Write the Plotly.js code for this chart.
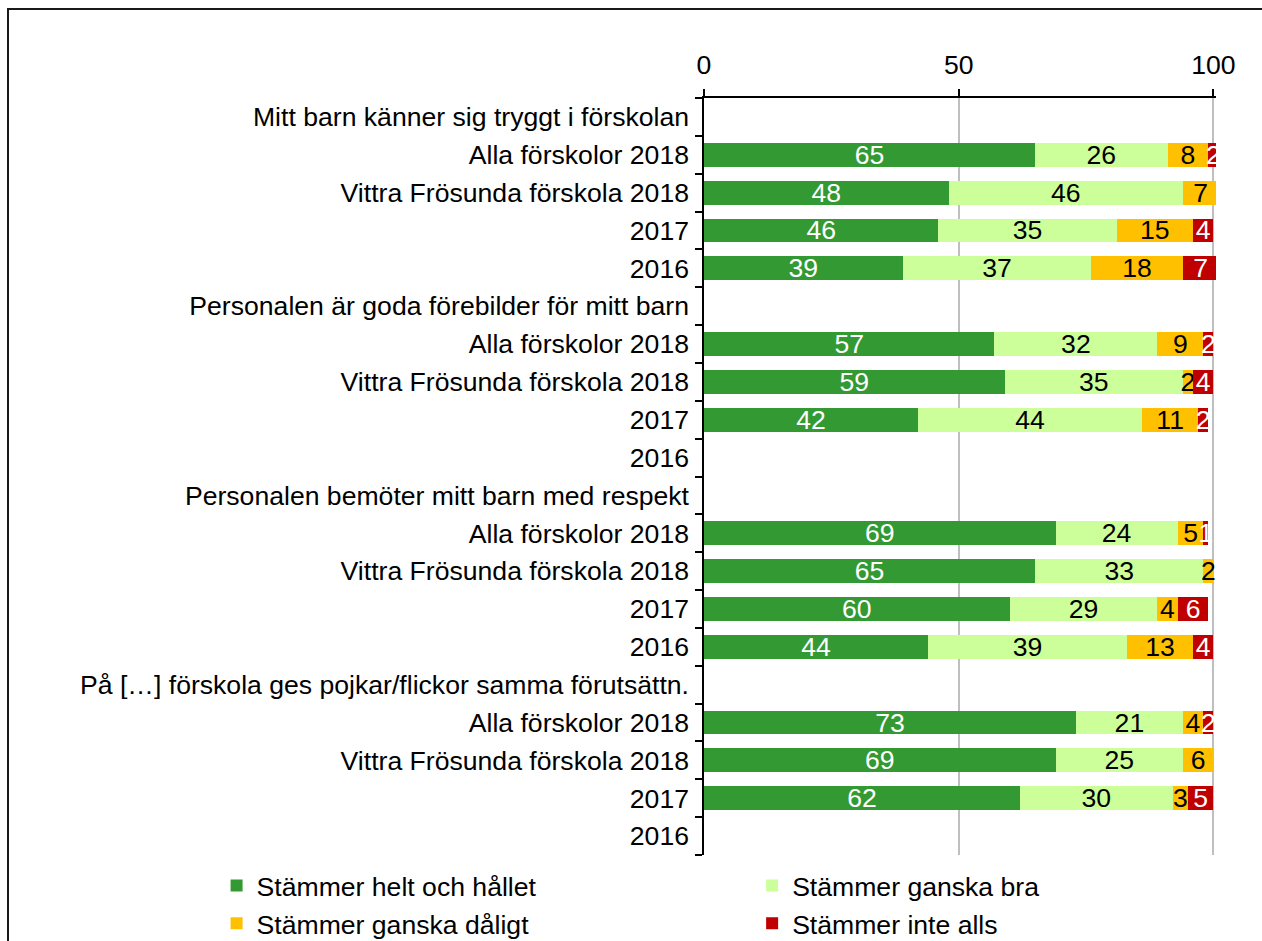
<!DOCTYPE html>
<html>
<head>
<meta charset="utf-8">
<script src="https://cdn.plot.ly/plotly-3.0.1.min.js"></script>
<style>
  html, body { margin: 0; padding: 0; background: #fff; }
  #wrap { position: relative; width: 1262px; height: 941px; overflow: hidden; }
  #frame { position: absolute; left: 7px; top: 8px; width: 1300px; height: 1000px;
           border-top: 2px solid #1a1a1a; border-left: 2px solid #1a1a1a; pointer-events: none; }
  #chart { position: absolute; left: 0; top: 0; width: 1262px; height: 941px; }
</style>
</head>
<body>
<div id="wrap">
  <div id="chart"></div>
  <div id="frame"></div>
</div>
<script>
// Category labels (top to bottom)
const categories = [
  "Mitt barn känner sig tryggt i förskolan",
  "Alla förskolor 2018",
  "Vittra Frösunda förskola 2018",
  "2017",
  "2016",
  "Personalen är goda förebilder för mitt barn",
  "Alla förskolor 2018",
  "Vittra Frösunda förskola 2018",
  "2017",
  "2016",
  "Personalen bemöter mitt barn med respekt",
  "Alla förskolor 2018",
  "Vittra Frösunda förskola 2018",
  "2017",
  "2016",
  "På […] förskola ges pojkar/flickor samma förutsättn.",
  "Alla förskolor 2018",
  "Vittra Frösunda förskola 2018",
  "2017",
  "2016"
];

// Series values (percent), null = no bar
const helt   = [null, 65, 48, 46, 39, null, 57, 59, 42, null, null, 69, 65, 60, 44, null, 73, 69, 62, null];
const ganska = [null, 26, 46, 35, 37, null, 32, 35, 44, null, null, 24, 33, 29, 39, null, 21, 25, 30, null];
const daligt = [null,  8,  7, 15, 18, null,  9,  2, 11, null, null,  5,  2,  4, 13, null,  4,  6,  3, null];
const inte   = [null,  2, null, 4,  7, null,  2,  4,  2, null, null,  1, null, 6,  4, null,  2, null, 5, null];

const seriesNames = ["Stämmer helt och hållet", "Stämmer ganska bra", "Stämmer ganska dåligt", "Stämmer inte alls"];
const xTicks = [0, 50, 100];

const colors = ["#339933", "#CCFF99", "#FFC000", "#C00000"];
const textColors = ["#ffffff", "#000000", "#000000", "#ffffff"];
const legendOf = ["legend", "legend2", "legend", "legend2"];
const FONT = "Liberation Sans, Arial, sans-serif";
const FS = 26.6;

const positions = categories.map((c, i) => i);
const boundaries = categories.map((c, i) => i - 0.5).concat([categories.length - 0.5]);

const allSeries = [helt, ganska, daligt, inte];
const traces = allSeries.map((vals, k) => ({
  type: "bar",
  orientation: "h",
  name: seriesNames[k],
  legend: legendOf[k],
  x: vals,
  y: positions,
  text: vals.map(v => v === null ? "" : String(v)),
  textposition: "inside",
  insidetextanchor: "middle",
  textangle: 0,
  constraintext: "none",
  textfont: { family: FONT, size: FS, color: textColors[k] },
  marker: { color: colors[k], line: { width: 0 } },
  hoverinfo: "skip"
}));

// invisible trace for the boundary-tick axis
traces.push({
  type: "scatter", x: [null], y: [null], yaxis: "y2", showlegend: false, hoverinfo: "skip"
});

const legendCommon = {
  orientation: "v",
  xanchor: "left",
  yanchor: "top",
  y: -0.009,
  font: { family: FONT, size: FS, color: "#000" },
  traceorder: "normal",
  tracegroupgap: 0,
  itemclick: false,
  itemdoubleclick: false,
  bgcolor: "rgba(0,0,0,0)"
};

const layout = {
  width: 1262,
  height: 941,
  margin: { l: 704, r: 46, t: 98, b: 86, autoexpand: false },
  paper_bgcolor: "rgba(0,0,0,0)",
  plot_bgcolor: "rgba(0,0,0,0)",
  barmode: "stack",
  bargap: 0.37,
  font: { family: FONT, size: FS, color: "#000" },
  showlegend: true,
  legend: Object.assign({}, legendCommon, { x: -0.952 }),
  legend2: Object.assign({}, legendCommon, { x: 0.094 }),
  xaxis: {
    side: "top",
    range: [0, 100.5],
    tickvals: xTicks,
    ticktext: xTicks.map(String),
    ticks: "outside",
    ticklen: 7,
    tickwidth: 2,
    tickcolor: "#000",
    ticklabelstandoff: 4,
    showline: true,
    linecolor: "#000",
    linewidth: 2,
    showgrid: true,
    gridcolor: "#bfbfbf",
    gridwidth: 2,
    zeroline: false,
    tickfont: { family: FONT, size: FS, color: "#000" },
    fixedrange: true
  },
  yaxis: {
    range: [categories.length - 0.5, -0.5],
    tickvals: positions,
    ticktext: categories,
    ticks: "",
    ticklabelstandoff: 14,
    showline: false,
    showgrid: false,
    zeroline: false,
    tickfont: { family: FONT, size: FS, color: "#000" },
    fixedrange: true
  },
  yaxis2: {
    overlaying: "y",
    side: "left",
    range: [categories.length - 0.5, -0.5],
    tickvals: boundaries,
    ticks: "outside",
    ticklen: 7,
    tickwidth: 2,
    tickcolor: "#000",
    showticklabels: false,
    showline: true,
    linecolor: "#000",
    linewidth: 2,
    showgrid: false,
    zeroline: false,
    fixedrange: true
  }
};

Plotly.newPlot("chart", traces, layout, { displayModeBar: false, staticPlot: true });
</script>
</body>
</html>
